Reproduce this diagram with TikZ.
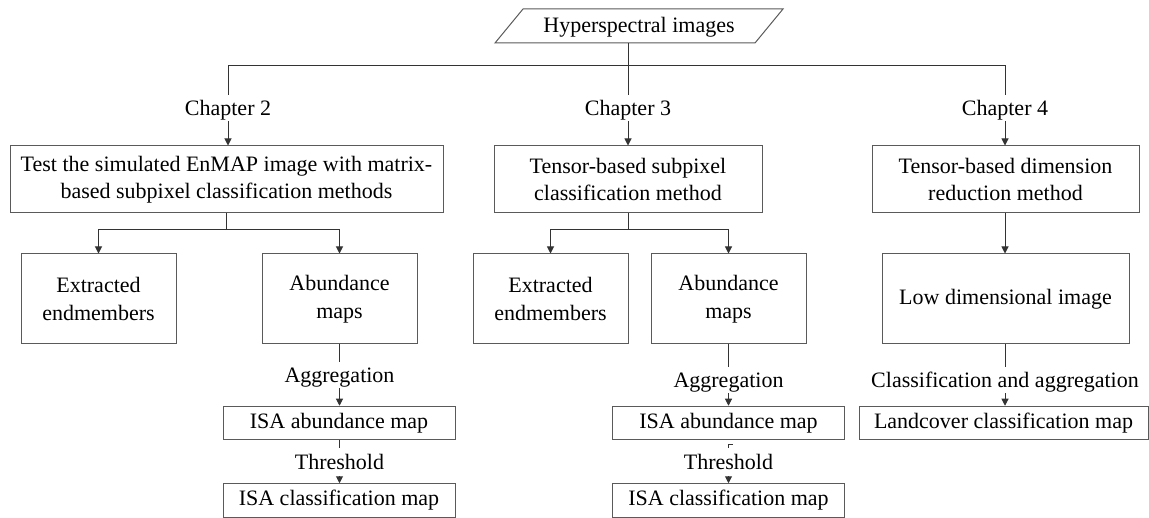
\documentclass[tikz,border=0pt]{standalone}
\usepackage{fontspec}
\setmainfont{Liberation Serif}
\usetikzlibrary{arrows.meta}
\definecolor{boxgray}{HTML}{5A5A5A}
\definecolor{linegray}{HTML}{333333}
\begin{document}
\begin{tikzpicture}[x=1pt,y=-1pt,
  every node/.style={font=\fontsize{22}{27.5}\selectfont, inner sep=0pt, align=center, text=black},
  box/.style={draw=boxgray, line width=1pt, fill=white},
  wire/.style={draw=linegray, line width=1pt},
  arr/.style={wire, -{Triangle[width=7pt,length=7pt]}},
  lbl/.style={text height=18pt, text depth=2pt, inner ysep=3pt},
  small/.style={box, minimum width=155pt, minimum height=90pt},
  wide/.style={box, minimum height=67pt},
  result/.style={box, minimum width=232pt, minimum height=33.5pt}
]
\useasboundingbox (0,0) rectangle (1149,518);

% input data (parallelogram)
\draw[box] (495,43) -- (755,43) -- (783,9) -- (523,9) -- cycle;
\node (hsi) at (639,27) [minimum width=230pt, minimum height=34pt] {Hyperspectral images};
\coordinate (hsiout) at (628,43);
\coordinate (split) at (628,66);

% chapter labels
\node[lbl] (c2) at (228,108) {Chapter 2};
\node[lbl] (c3) at (628,108) {Chapter 3};
\node[lbl] (c4) at (1005,108) {Chapter 4};

% chapter methods
\node[wide, minimum width=433pt] (m2) at (226.5,179.5) {Test the simulated EnMAP image with matrix-\\based subpixel classification methods};
\node[wide, minimum width=268pt] (m3) at (628,179.5) {Tensor-based subpixel\\classification method};
\node[wide, minimum width=267pt] (m4) at (1005.5,179.5) {Tensor-based dimension\\reduction method};

% intermediate products
\node[small] (e2) at (98.5,299) {Extracted\\endmembers};
\node[small] (a2) at (339.5,299) {Abundance\\maps};
\node[small] (e3) at (550.5,299) {Extracted\\endmembers};
\node[small] (a3) at (728.5,299) {Abundance\\maps};
\node[box, minimum width=247pt, minimum height=90pt] (l4) at (1005.5,299) {Low dimensional image};

% processing step labels
\node[lbl] (g2) at (339.5,375) {Aggregation};
\node[lbl] (g3) at (728.5,380) {Aggregation};
\node[lbl] (g4) at (1005,380) {Classification and aggregation};
\node[lbl, inner ysep=4pt] (t2) at (339.5,462) {Threshold};
\node[lbl, inner ysep=4pt] (t3) at (728.5,462) {Threshold};

% final maps
\node[result] (r2a) at (339,423) {ISA abundance map};
\node[result] (r2c) at (339,500.5) {ISA classification map};
\node[result] (r3a) at (728.5,423) {ISA abundance map};
\node[result] (r3c) at (728.5,500.5) {ISA classification map};
\node[box, minimum width=289pt, minimum height=33.5pt] (r4) at (1003.5,423) {Landcover classification map};

% top-level split
\draw[wire] (hsiout) -- (c3.north);
\draw[wire] (c2.north) -- (c2.north |- split) -- (c4.north |- split) -- (c4.north);
\draw[arr] (c2.south) -- (c2.south |- m2.north);
\draw[arr] (c3.south) -- (c3.south |- m3.north);
\draw[arr] (c4.south) -- (c4.south |- m4.north);

% branches below the methods
\draw[wire] (m2.south) -- ++(0,16) coordinate (s2);
\draw[arr] (s2) -| (e2.north);
\draw[arr] (s2) -| (a2.north);
\draw[wire] (m3.south) -- ++(0,16) coordinate (s3);
\draw[arr] (s3) -| (e3.north);
\draw[arr] (s3) -| (a3.north);
\draw[arr] (m4.south -| c4.south) -- (c4.south |- l4.north);

% chapter 2 chain
\draw[wire] (a2.south) -- (g2.north);
\draw[arr] (g2.south) -- (g2.south |- r2a.north);
\draw[wire] (t2.north |- r2a.south) -- (t2.north);
\draw[arr] (t2.south) -- (t2.south |- r2c.north);

% chapter 3 chain
\draw[wire] (a3.south) -- (g3.north);
\draw[arr] (g3.south) -- (g3.south |- r3a.north);
\draw[wire, line width=0.8pt] (t3.north) -- ++(0,-3) -- ++(4,0);
\draw[arr] (t3.south) -- (t3.south |- r3c.north);

% chapter 4 chain
\draw[wire] (c4.south |- l4.south) -- (g4.north);
\draw[arr] (g4.south) -- (g4.south |- r4.north);
\end{tikzpicture}
\end{document}
